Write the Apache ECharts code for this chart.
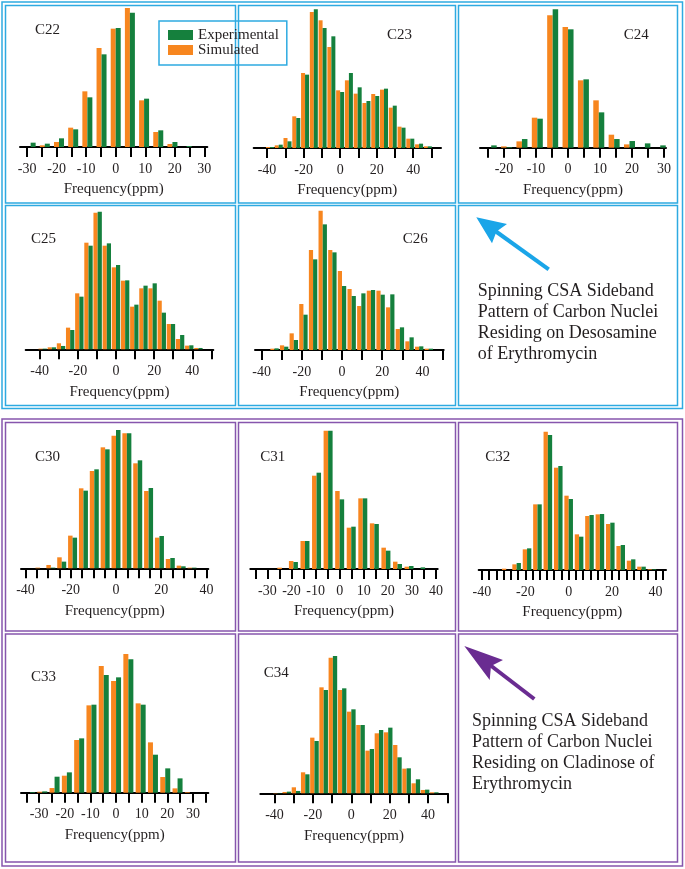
<!DOCTYPE html>
<html><head><meta charset="utf-8">
<script src="https://cdn.jsdelivr.net/npm/echarts@6/dist/echarts.min.js"></script>
<style>html,body{margin:0;padding:0;background:#fff}#c{width:685px;height:869px}</style>
</head><body><div id="c"></div>
<script>
// ---------- DATA ----------
const sidebands = [-38.4, -33.6, -28.8, -24, -19.2, -14.4, -9.6, -4.8, 0, 4.8, 9.6, 14.4, 19.2, 24, 28.8, 33.6, 38.4, 43.2, 48];
const panelNames = ['C22','C23','C24','C25','C26','C30','C31','C32','C33','C34'];
const seriesNames = ['Simulated','Experimental'];

const sim_C22 = [0,0,0,5,15,58,167,297,355,417,140,45,9,0,0,0,0,0,0];
const exp_C22 = [0,0,13,10,26,53,149,278,357,403,145,50,15,3,0,0,0,0,0];
const sim_C23 = [3,8,30,95,225,408,383,303,173,203,163,135,162,175,121,64,28,11,5];
const exp_C23 = [3,10,20,90,220,416,360,335,168,225,182,141,156,178,127,61,28,13,5];
const sim_C24 = [0,0,0,0,4,19,90,397,362,202,142,39,10,0,0,0,0,0,0];
const exp_C24 = [0,0,0,7,2,26,87,415,355,205,106,26,20,13,7,0,0,0,0];
const sim_C25 = [2,6,18,65,168,320,410,311,246,206,128,183,183,146,76,31,11,4,0];
const exp_C25 = [2,6,10,58,158,311,413,318,253,207,134,191,198,110,76,43,12,4,0];
const sim_C26 = [0,4,14,50,138,300,418,300,237,183,132,178,178,128,63,26,10,4,0];
const exp_C26 = [0,5,10,30,106,272,377,293,192,162,170,180,166,167,68,38,11,4,0];
const sim_C30 = [0,2,10,33,98,240,292,363,398,405,315,232,92,28,8,2,0,0,0];
const exp_C30 = [0,0,2,20,92,233,297,357,415,405,324,241,97,31,6,2,0,0,0];
const sim_C31 = [0,0,0,4,24,84,280,415,234,124,212,137,64,22,7,0,0,0,0];
const exp_C31 = [0,0,0,0,21,84,289,415,209,127,212,135,55,15,9,5,0,0,0];
const sim_C32 = [0,0,4,17,62,197,415,307,223,107,162,167,138,72,28,10,2,0,0];
const exp_C32 = [0,0,0,21,65,197,405,312,213,100,165,168,142,75,32,10,2,0,0];
const sim_C33 = [0,0,3,14,51,158,262,380,335,416,268,151,47,13,2,0,0,0,0];
const exp_C33 = [0,2,4,48,61,163,264,353,346,400,264,114,73,43,0,0,0,0,0];
const sim_C34 = [1,4,18,63,167,318,407,310,245,205,128,180,183,145,74,30,10,3,0];
const exp_C34 = [1,5,7,57,157,310,412,315,252,205,133,190,197,108,75,42,11,3,0];

const ticks_C22 = [-30,-25,-20,-15,-10,-5,0,5,10,15,20,25,30];
const labels_C22 = [-30,-20,-10,0,10,20,30];
const ticks_C23 = [-40,-30,-20,-10,0,10,20,30,40,50];
const labels_C23 = [-40,-20,0,20,40];
const ticks_C24 = [-25,-20,-15,-10,-5,0,5,10,15,20,25,30];
const labels_C24 = [-20,-10,0,10,20,30];
const ticks_C25 = [-40,-30,-20,-10,0,10,20,30,40,50];
const labels_C25 = [-40,-20,0,20,40];
const ticks_C26 = [-40,-30,-20,-10,0,10,20,30,40,50];
const labels_C26 = [-40,-20,0,20,40];
const ticks_C30 = [-40,-35,-30,-25,-20,-15,-10,-5,0,5,10,15,20,25,30,35,40];
const labels_C30 = [-40,-20,0,20,40];
const ticks_C31 = [-35,-30,-25,-20,-15,-10,-5,0,5,10,15,20,25,30,35,40];
const labels_C31 = [-30,-20,-10,0,10,20,30,40];
const ticks_C32 = [-40,-36.67,-33.33,-30,-26.67,-23.33,-20,-16.67,-13.33,-10,-6.67,-3.33,0,3.33,6.67,10,13.33,16.67,20,23.33,26.67,30,33.33,36.67,40,43.33];
const labels_C32 = [-40,-20,0,20,40];
const ticks_C33 = [-35,-30,-25,-20,-15,-10,-5,0,5,10,15,20,25,30,35];
const labels_C33 = [-30,-20,-10,0,10,20,30];
const ticks_C34 = [-40,-30,-20,-10,0,10,20,30,40,50];
const labels_C34 = [-40,-20,0,20,40];

const legendNames = ['Experimental','Simulated'];
const axisTitle = 'Frequency(ppm)';
const noteTop = 'Spinning CSA Sideband\nPattern of Carbon Nuclei\nResiding on Desosamine\nof Erythromycin';
const noteBottom = 'Spinning CSA Sideband\nPattern of Carbon Nuclei\nResiding on Cladinose of\nErythromycin';

// ---------- LAYOUT / STYLE ----------
const SIM = '#f7861f', EXP = '#15803d';
const BLUE = '#2eaae1', PURPLE = '#8656ad';
const FONT = '"Liberation Serif", "DejaVu Serif", serif';
const TXT = '#231f20';

const panels = [
  {sim:sim_C22, exp:exp_C22, ticks:ticks_C22, labels:labels_C22, left:20,    width:187.3, top:8,     height:139,   min:-32.4, max:31.0, bw:5,   lx:35,    ly:30},
  {sim:sim_C23, exp:exp_C23, ticks:ticks_C23, labels:labels_C23, left:253.7, width:187.3, top:9.3,   height:138.7, min:-47.3, max:55.2, bw:4,   lx:387,   ly:35.3},
  {sim:sim_C24, exp:exp_C24, ticks:ticks_C24, labels:labels_C24, left:480,   width:186,   top:9.3,   height:138.4, min:-27.5, max:30.6, bw:5.5, lx:623.7, ly:35},
  {sim:sim_C25, exp:exp_C25, ticks:ticks_C25, labels:labels_C25, left:25.7,  width:187.6, top:211.7, height:137.6, min:-47.3, max:51.0, bw:4.2, lx:31,    ly:239.3},
  {sim:sim_C26, exp:exp_C26, ticks:ticks_C26, labels:labels_C26, left:255,   width:188.7, top:210.7, height:139.3, min:-43.3, max:50.6, bw:4.2, lx:402.7, ly:239.3},
  {sim:sim_C30, exp:exp_C30, ticks:ticks_C30, labels:labels_C30, left:21,    width:187.3, top:430,   height:138.3, min:-42.0, max:40.8, bw:4.5, lx:35,    ly:456.7},
  {sim:sim_C31, exp:exp_C31, ticks:ticks_C31, labels:labels_C31, left:250.3, width:187.4, top:430.7, height:138.3, min:-37.1, max:40.7, bw:4.5, lx:260.3, ly:456.7},
  {sim:sim_C32, exp:exp_C32, ticks:ticks_C32, labels:labels_C32, left:478.7, width:187.3, top:431.7, height:138.3, min:-41.5, max:44.9, bw:4.3, lx:485.3, ly:456.7},
  {sim:sim_C33, exp:exp_C33, ticks:ticks_C33, labels:labels_C33, left:21,    width:187.3, top:654,   height:138.7, min:-37.1, max:36.0, bw:5,   lx:31,    ly:676.7},
  {sim:sim_C34, exp:exp_C34, ticks:ticks_C34, labels:labels_C34, left:260.3, width:187.4, top:656,   height:137.3, min:-47.4, max:50.2, bw:4.3, lx:263.7, ly:673.3}
];

const grid = [], xAxis = [], yAxis = [], series = [], graphic = [];
panels.forEach((p, i) => {
  grid.push({left:p.left, top:p.top, width:p.width, height:p.height});
  xAxis.push({
    type:'value', gridIndex:i, min:p.min, max:p.max,
    splitLine:{show:false},
    axisLine:{show:true, onZero:false, lineStyle:{color:'#000', width:2}},
    axisTick:{show:true, length:10, inside:false, customValues:p.ticks, lineStyle:{color:'#000', width:2}},
    axisLabel:{show:true, customValues:p.labels, margin:15, fontFamily:FONT, fontSize:14, color:TXT, hideOverlap:false},
    name:axisTitle, nameLocation:'middle', nameGap:35,
    nameTextStyle:{fontFamily:FONT, fontSize:15, color:TXT}
  });
  const ymax = Math.max(...p.sim, ...p.exp);
  yAxis.push({type:'value', gridIndex:i, min:0, max:ymax, show:false});
  series.push({
    type:'bar', name:seriesNames[0], xAxisIndex:i, yAxisIndex:i,
    data:sidebands.map((x, j) => [x, p.sim[j]]),
    barWidth:p.bw, barGap:'0%', itemStyle:{color:SIM}, clip:true, silent:true
  });
  series.push({
    type:'bar', name:seriesNames[1], xAxisIndex:i, yAxisIndex:i,
    data:sidebands.map((x, j) => [x, p.exp[j]]),
    barWidth:p.bw, barGap:'0%', itemStyle:{color:EXP}, clip:true, silent:true
  });
  graphic.push({type:'text', silent:true, x:p.lx, y:p.ly,
    style:{text:panelNames[i], font:'15px ' + FONT, fill:TXT, verticalAlign:'middle', align:'left'}});
});

function frame(x, y, w, h, c) {
  return {type:'rect', silent:true, shape:{x:x, y:y, width:w, height:h},
    style:{fill:'none', stroke:c, lineWidth:1.5}};
}
// blue section
graphic.push(frame(2, 2, 680.5, 406.5, BLUE));
[[5.5,230],[238.5,217],[458.5,219]].forEach(c => {
  graphic.push(frame(c[0], 5.5, c[1], 197.5, BLUE));
  graphic.push(frame(c[0], 205.5, c[1], 200, BLUE));
});
// purple section
graphic.push(frame(2, 419, 680.5, 447, PURPLE));
[[5.5,230],[238.5,217],[458.5,219]].forEach(c => {
  graphic.push(frame(c[0], 422.5, c[1], 208.5, PURPLE));
  graphic.push(frame(c[0], 634, c[1], 228, PURPLE));
});

// arrows
graphic.push({type:'line', silent:true, shape:{x1:548.7, y1:269.3, x2:496, y2:231.5}, style:{stroke:'#1aa5e8', lineWidth:4}});
graphic.push({type:'polygon', silent:true, shape:{points:[[476.3,217.3],[507,224],[496.5,231.5],[492,243.3]]}, style:{fill:'#1aa5e8'}});
graphic.push({type:'line', silent:true, shape:{x1:534.3, y1:699, x2:490, y2:665}, style:{stroke:'#6a2c91', lineWidth:4}});
graphic.push({type:'polygon', silent:true, shape:{points:[[464.3,646],[503,660],[491,666],[489.7,680]]}, style:{fill:'#6a2c91'}});

// notes
graphic.push({type:'text', silent:true, x:477.7, y:281,
  style:{text:noteTop, font:'18px ' + FONT, lineHeight:20.8, fill:TXT, verticalAlign:'top'}});
graphic.push({type:'text', silent:true, x:472, y:711,
  style:{text:noteBottom, font:'18px ' + FONT, lineHeight:20.8, fill:TXT, verticalAlign:'top'}});

const chart = echarts.init(document.getElementById('c'), null, {renderer:'canvas'});
chart.setOption({
  animation:false,
  backgroundColor:'#fff',
  legend:{
    data:legendNames, orient:'vertical', left:159, top:21,
    padding:[6.5,8,7.5,9], itemWidth:25, itemHeight:10, itemGap:0, icon:'rect',
    borderColor:BLUE, borderWidth:1.5, selectedMode:false,
    textStyle:{fontFamily:FONT, fontSize:15, color:TXT, lineHeight:15}
  },
  grid:grid, xAxis:xAxis, yAxis:yAxis, series:series, graphic:graphic
});
</script></body></html>
